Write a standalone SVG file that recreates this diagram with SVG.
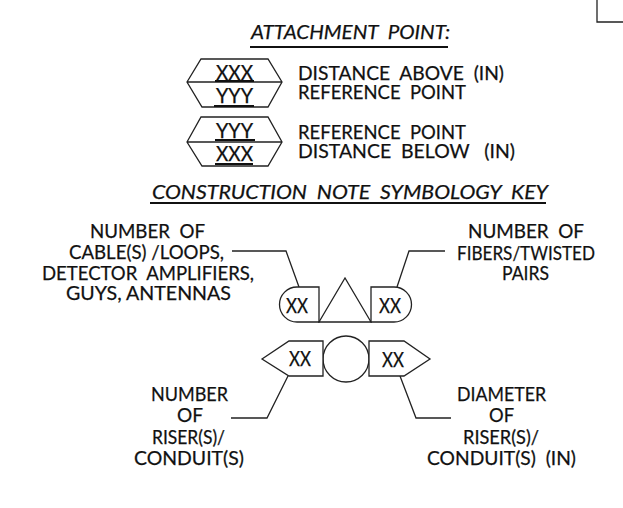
<svg xmlns="http://www.w3.org/2000/svg" width="623" height="508" viewBox="0 0 623 508">
<style>
text{font-family:"Lato","Liberation Sans",sans-serif;font-size:20px;fill:#111;stroke:#111;stroke-width:.25;white-space:pre}
.i{font-style:italic}
.x{font-size:21px}
.s{fill:#fff;stroke:#222;stroke-width:1.3}
.l{fill:none;stroke:#222;stroke-width:1.3}
.u{fill:none;stroke:#111;stroke-width:2}
</style>
<rect width="623" height="508" fill="#fff"/>
<g id="connectors">
<path class="l" d="M597 0V22H623"/>
<path class="l" d="M232 251H286L299 287"/>
<path class="l" d="M445 251H409L397 287"/>
<path class="l" d="M231 418H267L288 376"/>
<path class="l" d="M451 418H416L400 376"/>
</g>
<g id="title-attachment">
<text class="i" x="251" y="39" textLength="199" lengthAdjust="spacingAndGlyphs">ATTACHMENT  POINT:</text>
<path class="u" d="M250 47H448"/>
</g>
<g id="hex-above">
<path class="s" d="M187 82L201 59H268L282 82L268 107H202ZM187 82H282"/>
<text class="x" x="216" y="80" textLength="37" lengthAdjust="spacingAndGlyphs">XXX</text>
<path class="u" d="M215 81H254M214 106H254"/>
<text class="x" x="216" y="103" textLength="37" lengthAdjust="spacingAndGlyphs">YYY</text>
<text x="298" y="80" textLength="206" lengthAdjust="spacingAndGlyphs">DISTANCE  ABOVE  (IN)</text>
<text x="298" y="99" textLength="168" lengthAdjust="spacingAndGlyphs">REFERENCE  POINT</text>
</g>
<g id="hex-below">
<path class="s" d="M187 142L201 117H268L282 142L268 166H202ZM187 142H282"/>
<text class="x" x="216" y="138" textLength="37" lengthAdjust="spacingAndGlyphs">YYY</text>
<path class="u" d="M215 140H255M215 164H253"/>
<text class="x" x="216" y="161" textLength="37" lengthAdjust="spacingAndGlyphs">XXX</text>
<text x="298" y="139" textLength="168" lengthAdjust="spacingAndGlyphs">REFERENCE  POINT</text>
<text x="298" y="158" textLength="217" lengthAdjust="spacingAndGlyphs">DISTANCE  BELOW   (IN)</text>
</g>
<g id="title-key">
<text class="i" x="152" y="199" textLength="396" lengthAdjust="spacingAndGlyphs">CONSTRUCTION  NOTE  SYMBOLOGY  KEY</text>
<path class="u" d="M150 203H546"/>
</g>
<g id="label-cables">
<text x="90" y="238" textLength="115" lengthAdjust="spacingAndGlyphs">NUMBER  OF</text>
<text x="69" y="259" textLength="155" lengthAdjust="spacingAndGlyphs">CABLE(S) /LOOPS,</text>
<text x="42" y="280" textLength="212" lengthAdjust="spacingAndGlyphs">DETECTOR  AMPLIFIERS,</text>
<text x="66" y="300" textLength="165" lengthAdjust="spacingAndGlyphs">GUYS, ANTENNAS</text>
</g>
<g id="label-fibers">
<text x="468" y="238" textLength="116" lengthAdjust="spacingAndGlyphs">NUMBER  OF</text>
<text x="457" y="260" textLength="138" lengthAdjust="spacingAndGlyphs">FIBERS/TWISTED</text>
<text x="502" y="280" textLength="47" lengthAdjust="spacingAndGlyphs">PAIRS</text>
</g>
<g id="symbol-pill">
<path class="s" d="M319 287H297A17.500 17.500 0 0 0 297 322H319Z"/>
<path class="s" d="M319 322L345 278L371 322Z"/>
<path class="s" d="M371 287H394A17.500 17.500 0 0 1 394 322H371Z"/>
<text class="x" x="286" y="313" textLength="22" lengthAdjust="spacingAndGlyphs">XX</text>
<text class="x" x="379" y="313" textLength="22" lengthAdjust="spacingAndGlyphs">XX</text>
</g>
<g id="symbol-riser">
<circle class="s" cx="346" cy="359" r="23"/>
<path class="s" d="M262 359L289 341H323V376H289Z"/>
<path class="s" d="M369 341H404L430 359L404 376H369Z"/>
<text class="x" x="289" y="366" textLength="22" lengthAdjust="spacingAndGlyphs">XX</text>
<text class="x" x="382" y="367" textLength="22" lengthAdjust="spacingAndGlyphs">XX</text>
</g>
<g id="label-riser-number">
<text x="151" y="401" textLength="77" lengthAdjust="spacingAndGlyphs">NUMBER</text>
<text x="177" y="422" textLength="26" lengthAdjust="spacingAndGlyphs">OF</text>
<text x="152" y="444" textLength="73" lengthAdjust="spacingAndGlyphs">RISER(S)/</text>
<text x="134" y="465" textLength="110" lengthAdjust="spacingAndGlyphs">CONDUIT(S)</text>
</g>
<g id="label-riser-diameter">
<text x="457" y="401" textLength="89" lengthAdjust="spacingAndGlyphs">DIAMETER</text>
<text x="489" y="422" textLength="25" lengthAdjust="spacingAndGlyphs">OF</text>
<text x="463" y="444" textLength="76" lengthAdjust="spacingAndGlyphs">RISER(S)/</text>
<text x="427" y="465" textLength="149" lengthAdjust="spacingAndGlyphs">CONDUIT(S)  (IN)</text>
</g>
</svg>
